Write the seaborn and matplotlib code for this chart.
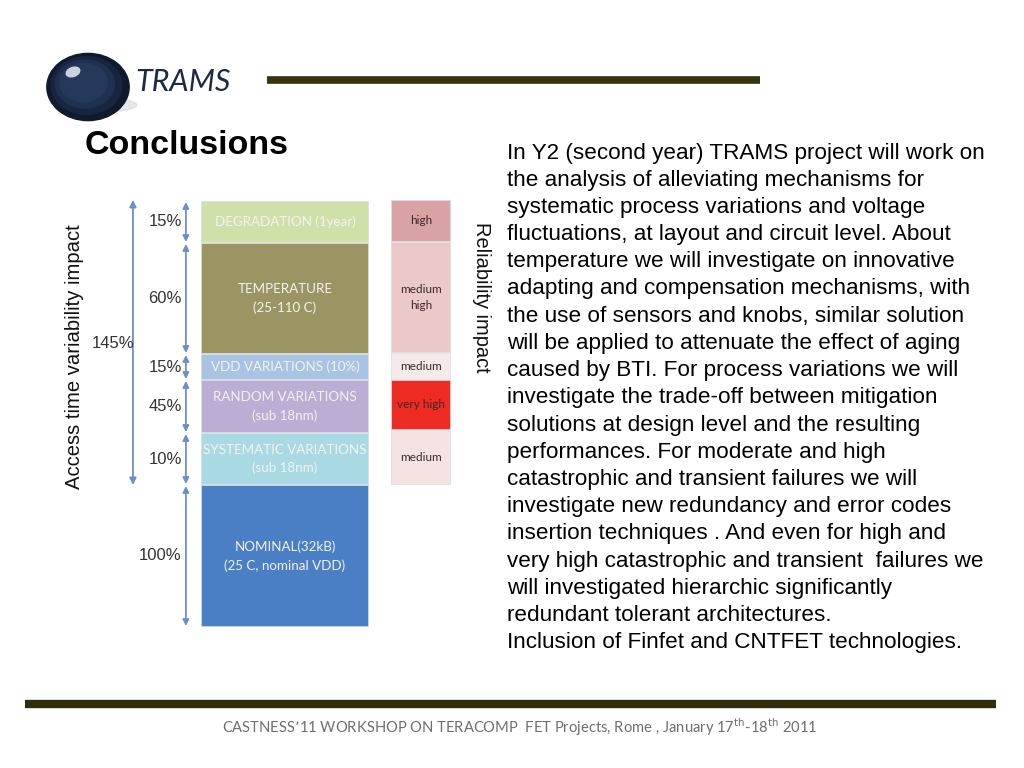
import numpy as np
import pandas as pd
import seaborn as sns
import matplotlib.pyplot as plt
from matplotlib.patches import Ellipse

# --- data (segment heights as drawn on the slide, bottom -> top) ---
parts = ["NOMINAL(32kB)\n(25 C, nominal VDD)", "SYSTEMATIC VARIATIONS\n(sub 18nm)",
         "RANDOM VARIATIONS\n(sub 18nm)", "VDD VARIATIONS (10%)",
         "TEMPERATURE\n(25-110 C)", "DEGRADATION (1year)"]
part_pct = ["100%", "10%", "45%", "15%", "60%", "15%"]
part_height = [142, 52, 53, 26, 111, 42]
part_colors = ["#4a7fc6", "#a9dae3", "#bbadd3", "#a8c3e3", "#9b9563", "#cfe0a9"]
total_label = "145%"

rel_levels = ["medium", "very high", "medium", "medium\nhigh", "high"]
rel_height = [55, 50, 27, 111, 42]
rel_colors = ["#f5e3e3", "#ee2b22", "#f6e9e9", "#ecc9c9", "#d9a3a3"]

body = [
    "In Y2 (second year) TRAMS project will work on",
    "the analysis of alleviating mechanisms for",
    "systematic process variations and voltage",
    "fluctuations, at layout and circuit level. About",
    "temperature we will investigate on innovative",
    "adapting and compensation mechanisms, with",
    "the use of sensors and knobs, similar solution",
    "will be applied to attenuate the effect of aging",
    "caused by BTI. For process variations we will",
    "investigate the trade-off between mitigation",
    "solutions at design level and the resulting",
    "performances. For moderate and high",
    "catastrophic and transient failures we will",
    "investigate new redundancy and error codes",
    "insertion techniques . And even for high and",
    "very high catastrophic and transient  failures we",
    "will investigated hierarchic significantly",
    "redundant tolerant architectures.",
    "Inclusion of Finfet and CNTFET technologies.",
]

sns.set_theme(style="white")
plt.rcParams['font.family'] = ['Liberation Sans', 'DejaVu Sans']

W, H = 1024, 768
fig = plt.figure(figsize=(W / 100, H / 100), dpi=100)
fig.patch.set_facecolor("white")


def fx(px):
    return px / W


def fy(py):
    return 1 - py / H


def stacked(ax, name, heights, colors):
    cum = np.cumsum(heights)
    df = pd.DataFrame({"col": name, "top": cum, "seg": range(len(heights))})
    order = list(range(len(heights)))[::-1]
    sns.barplot(data=df, x="col", y="top", hue="seg", hue_order=order,
                palette=[colors[i] for i in order], dodge=False, saturation=1,
                width=1, edgecolor="#dfe3ea", linewidth=1.2, legend=False, ax=ax)
    ax.set_xlim(-0.5, 0.5)
    ax.set_ylim(0, cum[-1])
    ax.axis("off")
    return cum


# main stacked column
ax = fig.add_axes([fx(201), fy(627), fx(168), 426 / H])
cum = stacked(ax, "access", part_height, part_colors)
tr = ax.get_yaxis_transform()
for i, (lab, pct, h) in enumerate(zip(parts, part_pct, part_height)):
    mid = cum[i] - h / 2
    ax.text(0, mid, lab, ha="center", va="center", color="#f3f3ee",
            fontsize=9.6, family="Lato", linespacing=1.6)
    ax.text(-0.115, mid, pct, transform=tr, ha="right", va="center",
            color="#333333", fontsize=12)
    ax.annotate("", xy=(-0.09, cum[i] - h + 1), xytext=(-0.09, cum[i] - 1),
                xycoords=tr, textcoords=tr,
                arrowprops=dict(arrowstyle="<|-|>", color="#6b8fc9", lw=1.3,
                                mutation_scale=9, shrinkA=0, shrinkB=0),
                annotation_clip=False)

# total arrow (variability part)
ax.annotate("", xy=(-0.405, cum[0]), xytext=(-0.405, cum[-1] + 1),
            xycoords=tr, textcoords=tr,
            arrowprops=dict(arrowstyle="<|-|>", color="#6b8fc9", lw=1.3,
                            mutation_scale=10, shrinkA=0, shrinkB=0),
            annotation_clip=False)
ax.text(-0.525, (cum[0] + cum[-1]) / 2, total_label, transform=tr, ha="center",
        va="center", color="#333333", fontsize=12)
fig.text(fx(75), fy(357), "Access time variability impact", rotation=90,
         ha="center", va="center", fontsize=14.6, color="#111111")

# reliability column
ax2 = fig.add_axes([fx(391), fy(485), fx(60), 285 / H])
rcum = stacked(ax2, "rel", rel_height, rel_colors)
for i, (lab, h) in enumerate(zip(rel_levels, rel_height)):
    ax2.text(0, rcum[i] - h / 2, lab, ha="center", va="center",
             color="#3a2a2a", fontsize=8.5, family="Lato", linespacing=1.5)
fig.text(fx(482), fy(297), "Reliability impact", rotation=270,
         ha="center", va="center", fontsize=14.4, color="#111111")

# header: logo, title, rules
lax = fig.add_axes([fx(40), fy(130), fx(110), 80 / H])
lax.set_xlim(0, 110)
lax.set_ylim(0, 80)
lax.axis("off")
lax.add_patch(Ellipse((62, 25), 70, 14, color="#d8d8d8", alpha=0.6, zorder=0))
for k, c in enumerate(["#0f1a2c", "#172640", "#1f3150", "#26395a"]):
    r = 42 - k * 6
    lax.add_patch(Ellipse((48 - k * 1.5, 43 + k * 1.5), r * 2 * 0.98, r * 2 * 0.8,
                          color=c, zorder=1 + k))
lax.add_patch(Ellipse((33, 58), 14, 9, angle=20, color="#c9d2e0", zorder=6))
fig.text(fx(135), fy(82), "TRAMS", fontsize=22, style="italic", family="Lato",
         color="#1c2a45", va="center", ha="left")
fig.add_artist(plt.Line2D([fx(267), fx(760)], [fy(80), fy(80)], color="#36340f",
                          lw=5.5, solid_capstyle="butt"))
fig.add_artist(plt.Line2D([fx(25), fx(996)], [fy(704), fy(704)], color="#2f2d0c",
                          lw=6, solid_capstyle="butt"))
fig.text(fx(85), fy(145), "Conclusions", fontsize=24.5, fontweight="bold",
         ha="left", va="center", color="#000000")

# body text
for i, line in enumerate(body):
    fig.text(fx(507), fy(153 + i * 27.2), line, fontsize=16.2, ha="left",
             va="center", color="#000000")

fig.text(fx(520), fy(727),
         "CASTNESS\u201911 WORKSHOP ON TERACOMP  FET Projects, Rome , January "
         "17$^{\\mathrm{th}}$-18$^{\\mathrm{th}}$ 2011",
         fontsize=10.6, family="Lato", color="#6e6e6e", ha="center", va="center")

fig.savefig("out.png", dpi=100)
